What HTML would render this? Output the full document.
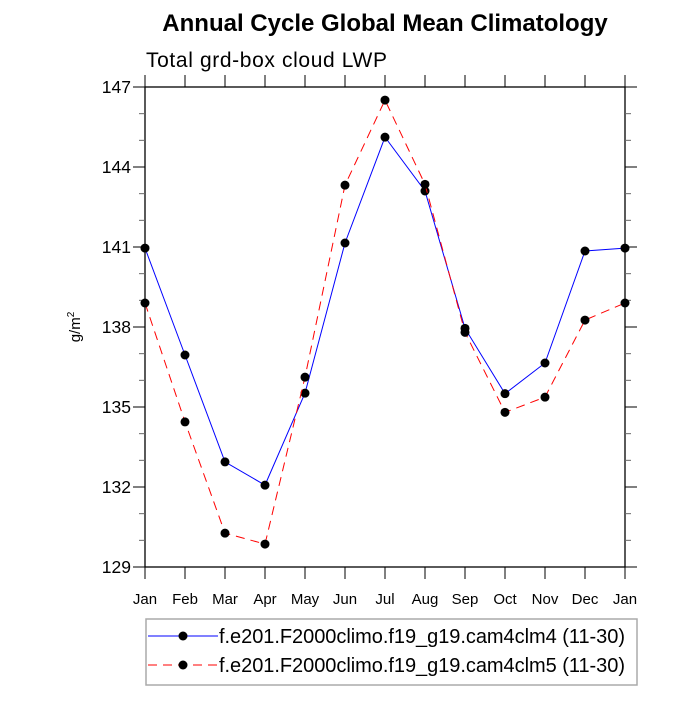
<!DOCTYPE html>
<html><head><meta charset="utf-8"><style>
body{margin:0;background:#fff}
svg text{font-family:"Liberation Sans",sans-serif}
</style></head><body>
<svg id="c" width="700" height="700" xmlns="http://www.w3.org/2000/svg">
<text x="385" y="31" font-size="24" font-weight="bold" text-anchor="middle">Annual Cycle Global Mean Climatology</text>
<text x="146" y="67" font-size="21" textLength="241">Total grd-box cloud LWP</text>
<text transform="translate(80,327) rotate(-90)" font-size="15" text-anchor="middle">g/m<tspan dy="-6" font-size="10">2</tspan></text>
<g id="axes"></g>
<g id="series"></g>
<rect x="146" y="619" width="491" height="66" fill="none" stroke="#aaa" stroke-width="1.5"/>
<g>
<line x1="148" y1="636" x2="218" y2="636" stroke="#00f" stroke-width="1"/>
<circle cx="183" cy="636" r="4.5" fill="#000"/>
<text x="219" y="643" font-size="20" textLength="406">f.e201.F2000climo.f19_g19.cam4clm4 (11-30)</text></g>
<g>
<line x1="148" y1="665" x2="218" y2="665" stroke="#f00" stroke-width="1" stroke-dasharray="9,6"/>
<circle cx="183" cy="665" r="4.5" fill="#000"/>
<text x="219" y="672" font-size="20" textLength="406">f.e201.F2000climo.f19_g19.cam4clm5 (11-30)</text></g>
</svg>
<script>
const months=["Jan","Feb","Mar","Apr","May","Jun","Jul","Aug","Sep","Oct","Nov","Dec","Jan"];
const clm4=[140.96,136.95,132.94,132.07,135.52,141.15,145.12,143.1,137.95,135.5,136.65,140.85,140.96];
const clm5=[138.9,134.44,130.27,129.86,136.12,143.32,146.51,143.35,137.8,134.8,135.37,138.26,138.9];
const yTicks=[129,132,135,138,141,144,147];
const NS="http://www.w3.org/2000/svg";
const L=145,R=625,T=87,B=567,ymin=129,ymax=147;
const xs=i=>L+i*(R-L)/(months.length-1);
const ys=v=>B-(v-ymin)/(ymax-ymin)*(B-T);
const ax=document.getElementById('axes'),se=document.getElementById('series');
function mk(p,t,a){const e=document.createElementNS(NS,t);for(const k in a)e.setAttribute(k,a[k]);p.appendChild(e);return e;}
const fr=mk(ax,'rect',{x:L,y:T,width:R-L,height:B-T,fill:'none',stroke:'#000','stroke-width':1.3});


for(let v=ymin;v<=ymax;v++){const maj=(v-ymin)%3==0,len=maj?12:6,y=ys(v);
mk(ax,'line',{x1:L,x2:L-len,y1:y,y2:y,stroke:maj?'#000':'#666'});
mk(ax,'line',{x1:R,x2:R+len,y1:y,y2:y,stroke:maj?'#000':'#666'});}
yTicks.forEach(v=>{const t=mk(ax,'text',{x:L-14,y:ys(v)+6,'font-size':17.5,'text-anchor':'end'});t.textContent=v;

});
months.forEach((m,i)=>{const x=xs(i);
mk(ax,'line',{x1:x,x2:x,y1:B,y2:B+12,stroke:'#000'});
mk(ax,'line',{x1:x,x2:x,y1:T,y2:T-12,stroke:'#000'});
const t=mk(ax,'text',{x:x,y:B+37,'font-size':15,'text-anchor':'middle'});t.textContent=m;

});
function draw(d,col,dash,name){const p=mk(se,'polyline',{points:d.map((v,i)=>xs(i)+','+ys(v)).join(' '),fill:'none',stroke:col,'stroke-width':1,'stroke-dasharray':dash});


d.forEach((v,i)=>{const c=mk(se,'circle',{cx:xs(i),cy:ys(v),r:4.5,fill:'#000'});

});}
draw(clm4,'#00f','none','clm4');
draw(clm5,'#f00','9,6','clm5');
</script>
</body></html>
